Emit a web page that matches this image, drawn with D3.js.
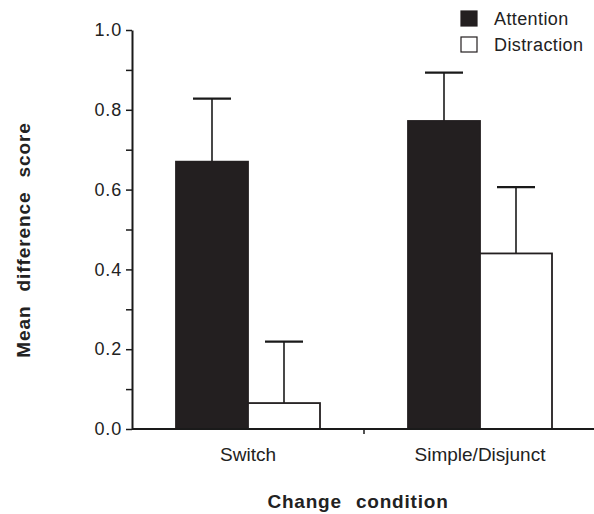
<!DOCTYPE html>
<meta charset="utf-8" />
<script src="https://d3js.org/d3.v7.min.js"></script>
<style>
	body { margin: 0; background: #fff; }
	text { font-family: "Liberation Sans", Arial, sans-serif; fill: #222; }
</style>
<div id="chart"></div>
<script>
	// data
	var conditions = ["Switch", "Simple/Disjunct"];
	var groups = ["Attention", "Distraction"];
	var attentionMeans = [0.67, 0.772];
	var attentionErr = [0.158, 0.121];
	var distractionMeans = [0.065, 0.44];
	var distractionErr = [0.154, 0.166];
	var yTicks = [0.0, 0.2, 0.4, 0.6, 0.8, 1.0];

	var W = 594, H = 514;
	var margin = { top: 30, right: -2, bottom: 85, left: 132 };
	var width = W - margin.left - margin.right,
		height = H - margin.top - margin.bottom;

	var svg = d3.select("#chart").append("svg")
		.attr("width", W).attr("height", H)
		.append("g")
		.attr("transform", "translate(" + margin.left + "," + margin.top + ")");

	var x = d3.scaleBand().domain(conditions).range([0, width]).paddingInner(0).paddingOuter(0);
	var xSub = d3.scaleBand().domain(groups).range([44, x.bandwidth() - 44]);
	var y = d3.scaleLinear().domain([0, 1]).range([height, 0]);

	var rows = [];
	conditions.forEach(function (c, i) {
		rows.push({ cond: c, group: "Attention", v: attentionMeans[i], e: attentionErr[i] });
		rows.push({ cond: c, group: "Distraction", v: distractionMeans[i], e: distractionErr[i] });
	});

	// error bars (upper only)
	var eb = svg.append("g").attr("stroke", "#1a1a1a").attr("stroke-width", 1.6);
	rows.forEach(function (d) {
		var cx = x(d.cond) + xSub(d.group) + xSub.bandwidth() / 2;
		eb.append("line").attr("x1", cx).attr("x2", cx)
			.attr("y1", y(d.v)).attr("y2", y(d.v + d.e));
		eb.append("line").attr("x1", cx - 19).attr("x2", cx + 19)
			.attr("y1", y(d.v + d.e)).attr("y2", y(d.v + d.e)).attr("stroke-width", 2.2);
	});

	// bars
	svg.append("g").selectAll("rect").data(rows).join("rect")
		.attr("x", d => x(d.cond) + xSub(d.group))
		.attr("width", xSub.bandwidth())
		.attr("y", d => y(d.v))
		.attr("height", d => height - y(d.v))
		.attr("fill", d => d.group === "Attention" ? "#231f20" : "#fff")
		.attr("stroke", "#231f20")
		.attr("stroke-width", 1.8);

	// y axis
	var yAxis = svg.append("g")
		.call(d3.axisLeft(y).tickValues(d3.range(0, 1.01, 0.1)).tickSize(6).tickSizeOuter(0)
			.tickFormat(d => yTicks.some(t => Math.abs(t - d) < 1e-6) ? d3.format(".1f")(d) : ""));
	yAxis.select(".domain").attr("stroke", "#1a1a1a").attr("stroke-width", 2);
	yAxis.selectAll(".tick line").attr("stroke", "#1a1a1a").attr("stroke-width", 1.5);
	yAxis.selectAll(".tick text").attr("font-size", 18).attr("x", -10)
		.attr("letter-spacing", 0.8)
		.style("font-family", "'Liberation Sans', Arial, sans-serif").attr("fill", "#222");

	// x axis
	var xAxisG = svg.append("g").attr("transform", "translate(0," + height + ")");
	xAxisG.append("line").attr("x1", 0).attr("x2", width + 2)
		.attr("stroke", "#1a1a1a").attr("stroke-width", 2);
	xAxisG.selectAll(".sep").data(conditions.slice(1)).join("line")
		.attr("x1", d => x(d)).attr("x2", d => x(d))
		.attr("y1", 0).attr("y2", 5)
		.attr("stroke", "#1a1a1a").attr("stroke-width", 1.5);
	xAxisG.selectAll(".lab").data(conditions).join("text")
		.attr("x", d => x(d) + x.bandwidth() / 2)
		.attr("y", 32)
		.attr("text-anchor", "middle")
		.attr("font-size", 19)
		.text(d => d);

	// axis titles
	svg.append("text")
		.attr("x", 226).attr("y", height + 79)
		.attr("text-anchor", "middle")
		.attr("font-size", 19).attr("font-weight", "bold")
		.attr("letter-spacing", 0.8)
		.style("word-spacing", "8px")
		.text("Change condition");

	svg.append("text")
		.attr("transform", "translate(-102,210) rotate(-90)")
		.attr("text-anchor", "middle")
		.attr("font-size", 19).attr("font-weight", "bold")
		.attr("letter-spacing", 0.9)
		.style("word-spacing", "8px")
		.text("Mean difference score");

	// legend
	var legend = svg.append("g").attr("transform", "translate(329,-19)");
	groups.forEach(function (g, i) {
		var row = legend.append("g").attr("transform", "translate(0," + i * 26 + ")");
		row.append("rect").attr("x", 0).attr("y", 0).attr("width", 16).attr("height", 15)
			.attr("fill", i === 0 ? "#231f20" : "#fff")
			.attr("stroke", "#231f20").attr("stroke-width", 1.2);
		row.append("text").attr("x", 33).attr("y", 14)
			.attr("font-size", 18).attr("letter-spacing", 0.4).text(g);
	});
</script>
